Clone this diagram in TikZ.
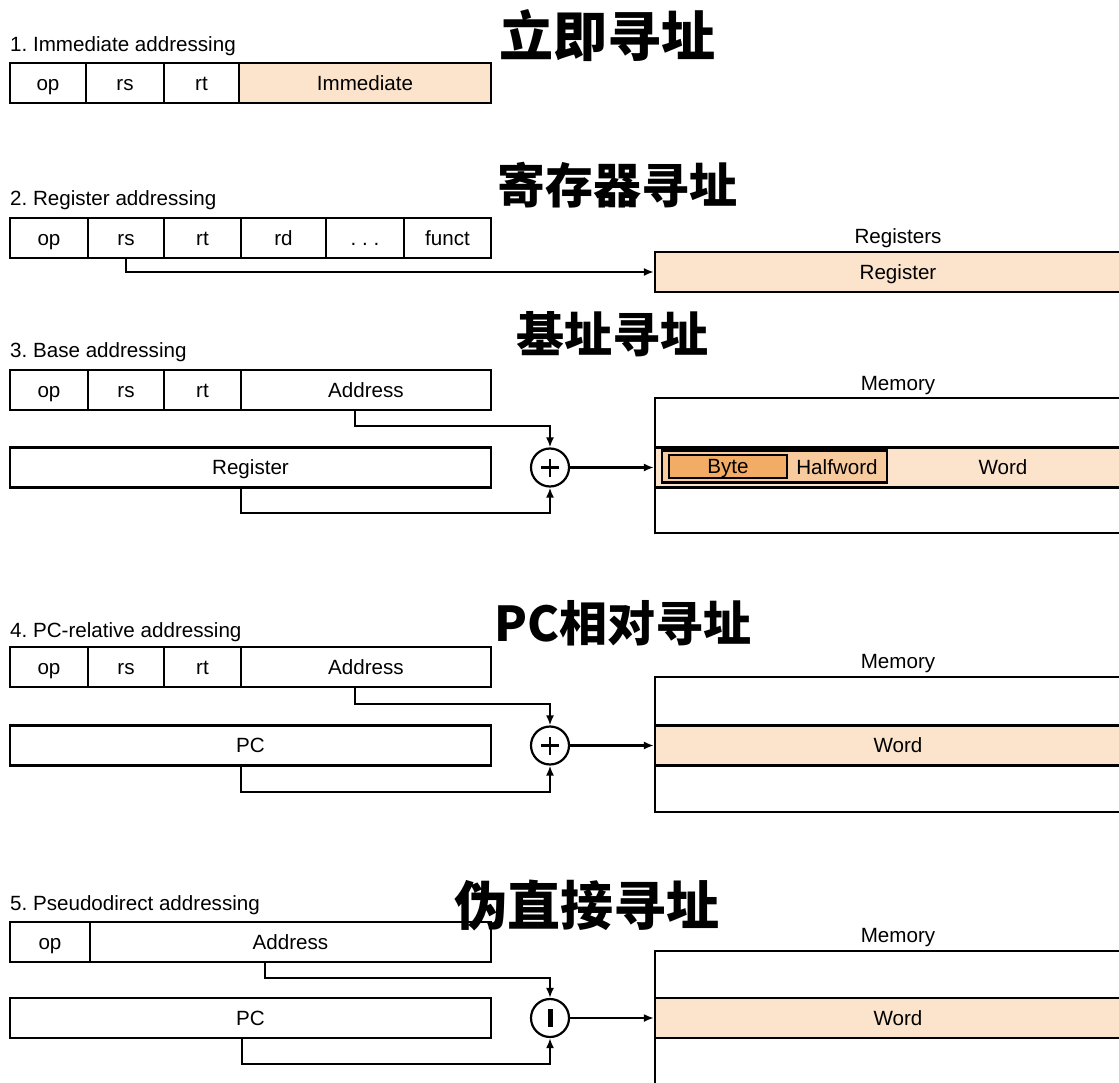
\documentclass[tikz,border=0pt]{standalone}
\usepackage{fontspec}
\setmainfont{Liberation Sans}
\newfontfamily\cjk{Noto Sans CJK SC}
\usetikzlibrary{arrows.meta}
\definecolor{peach}{HTML}{FCE4CC}
\definecolor{half}{HTML}{F8CB9E}
\definecolor{bytec}{HTML}{F2AC66}
\frenchspacing
\begin{document}
\begin{tikzpicture}[x=1pt,y=-1pt,
  lab/.style={font=\fontsize{20.6}{24}\selectfont},
  fld/.style={draw, line width=2.2pt, minimum height=40pt, inner sep=0pt, lab, text height=14.8pt, text depth=0pt, anchor=center},
  plain/.style={inner sep=0pt, lab, text height=14.8pt, text depth=0pt},
  sec/.style={inner sep=0pt, lab, anchor=base west},
  conn/.style={line width=2.2pt, -{Latex[length=10pt,width=8pt]}},
  ttl/.style={font=\cjk\bfseries\fontsize{48}{56}\selectfont, inner sep=0pt},
  sumc/.style={circle, draw, line width=2.2pt, minimum size=38pt, inner sep=0pt, fill=white},
  memb/.style={draw, line width=2.2pt, minimum width=486pt, inner sep=0pt},
  wordb/.style={draw, fill=peach, line width=2.2pt, minimum width=486pt, minimum height=40pt, inner sep=0pt, lab, text height=14.8pt, text depth=0pt}
]
\useasboundingbox (0,0) rectangle (1119,1083);
\clip (0,0) rectangle (1119,1083);

% ---------- 1. Immediate
\node[ttl, font=\cjk\bfseries\fontsize{54}{60}\selectfont] (t1) at (607,36) {立即寻址};
\node[sec] (s1) at (10,52) {1. Immediate addressing};
\node[fld, minimum width=76pt] (op1) at (48,83) {op};
\node[fld, minimum width=78pt] (rs1) at (125,83) {rs};
\node[fld, minimum width=75pt] (rt1) at (201.5,83) {rt};
\node[fld, minimum width=252pt, fill=peach] (im1) at (365,83) {Immediate};

% ---------- 2. Register
\node[ttl] (t2) at (617,185) {寄存器寻址};
\node[sec] (s2) at (10,205.5) {2. Register addressing};
\node[fld, minimum width=78pt] (op2) at (49,238) {op};
\node[fld, minimum width=76pt] (rs2) at (126,238) {rs};
\node[fld, minimum width=77pt] (rt2) at (202.5,238) {rt};
\node[fld, minimum width=85pt] (rd2) at (283.5,238) {rd};
\node[fld, minimum width=78pt] (dt2) at (365,238) {.\ .\ .};
\node[fld, minimum width=87pt] (fn2) at (447.5,238) {funct};
\node[plain] (rl2) at (898,236) {Registers};
\node[wordb] (reg2) at (898,272) {Register};
\draw[conn] (rs2.south) |- (reg2.west);

% ---------- 3. Base
\node[ttl] (t3) at (612,334) {基址寻址};
\node[sec] (s3) at (10,357.5) {3. Base addressing};
\node[fld, minimum width=78pt] (op3) at (49,390) {op};
\node[fld, minimum width=76pt] (rs3) at (126,390) {rs};
\node[fld, minimum width=77pt] (rt3) at (202.5,390) {rt};
\node[fld, minimum width=250pt] (ad3) at (366,390) {Address};
\node[fld, minimum width=481pt] (rg3) at (250.5,467.5) {Register};
\node[sumc] (sum3) at (550,467.5) {};
\draw[line width=2.8pt] ([xshift=-9pt]sum3.center) -- ([xshift=9pt]sum3.center);
\draw[line width=2.8pt] ([yshift=-9pt]sum3.center) -- ([yshift=9pt]sum3.center);
\node[plain] (ml3) at (898,383) {Memory};
\node[memb, minimum height=135pt] (mem3) at (898,465.5) {};
\node[wordb] (word3) at (898,467.5) {};
\node[plain] (wt3) at (1003,467.5) {Word};
\node[draw, fill=half, line width=2.2pt, minimum width=225pt, minimum height=32pt, inner sep=0pt] (hw3) at (774.5,466.5) {};
\node[plain] (hwt3) at (837,467.5) {Halfword};
\node[draw, fill=bytec, line width=2.2pt, minimum width=118pt, minimum height=23pt, inner sep=0pt, lab, text height=14.8pt, text depth=0pt] (by3) at (728,466.5) {Byte};
\draw[conn] ([xshift=-11pt]ad3.south) -- ++(0,15) -| (sum3.north);
\draw[conn] ([xshift=-9.5pt]rg3.south) -- ++(0,24) -| (sum3.south);
\draw[conn] (sum3.east) -- (word3.west);

% ---------- 4. PC-relative
\node[ttl] (t4) at (623,623) {PC相对寻址};
\node[sec] (s4) at (10,637.5) {4. PC-relative addressing};
\node[fld, minimum width=78pt] (op4) at (49,667) {op};
\node[fld, minimum width=76pt] (rs4) at (126,667) {rs};
\node[fld, minimum width=77pt] (rt4) at (202.5,667) {rt};
\node[fld, minimum width=250pt] (ad4) at (366,667) {Address};
\node[fld, minimum width=481pt] (pc4) at (250.5,745.5) {PC};
\node[sumc] (sum4) at (550,745.5) {};
\draw[line width=2.8pt] ([xshift=-9pt]sum4.center) -- ([xshift=9pt]sum4.center);
\draw[line width=2.8pt] ([yshift=-9pt]sum4.center) -- ([yshift=9pt]sum4.center);
\node[plain] (ml4) at (898,661) {Memory};
\node[memb, minimum height=135pt] (mem4) at (898,744.5) {};
\node[wordb] (word4) at (898,745.5) {Word};
\draw[conn] ([xshift=-11pt]ad4.south) -- ++(0,16) -| (sum4.north);
\draw[conn] ([xshift=-9.5pt]pc4.south) -- ++(0,25) -| (sum4.south);
\draw[conn] (sum4.east) -- (word4.west);

% ---------- 5. Pseudodirect
\node[ttl, font=\cjk\bfseries\fontsize{53}{60}\selectfont] (t5) at (587,905) {伪直接寻址};
\node[sec] (s5) at (10,910.5) {5. Pseudodirect addressing};
\node[fld, minimum width=80pt] (op5) at (50,942) {op};
\node[fld, minimum width=401pt] (ad5) at (290.5,942) {Address};
\node[fld, minimum width=481pt] (pc5) at (250.5,1018) {PC};
\node[sumc] (sum5) at (550,1018) {};
\fill (sum5.center) ++(-2.5,-9) rectangle ++(5,18);
\node[plain] (ml5) at (898,935) {Memory};
\node[memb, minimum height=200pt] (mem5) at (898,1051) {};
\node[wordb] (word5) at (898,1018) {Word};
\draw[conn] ([xshift=-25.5pt]ad5.south) -- ++(0,15) -| (sum5.north);
\draw[conn] ([xshift=-8.5pt]pc5.south) -- ++(0,25) -| (sum5.south);
\draw[conn] (sum5.east) -- (word5.west);
\end{tikzpicture}
\end{document}
